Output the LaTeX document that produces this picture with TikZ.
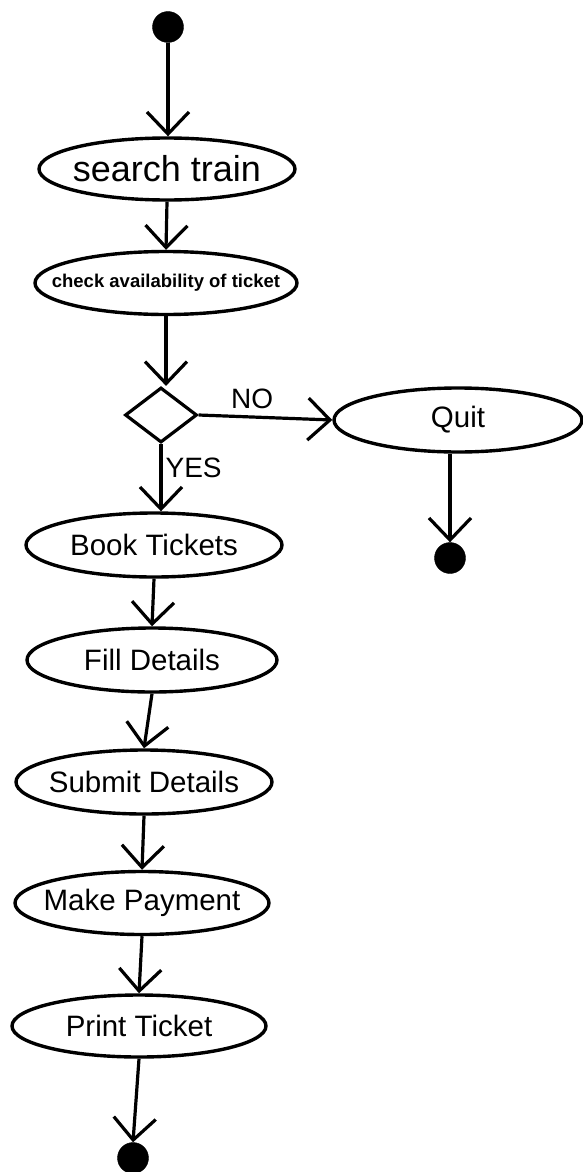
\documentclass[tikz,border=0pt]{standalone}
\usepackage{fontspec}
\setmainfont{Liberation Sans}
\usetikzlibrary{shapes.geometric,arrows.meta}

\tikzset{
  flow/.style={line width=3.2pt, -{Straight Barb[length=22pt,width=42pt,line width=3.2pt]}},
  activity/.style={ellipse, draw, line width=3.4pt, inner sep=0pt,
    font=\fontsize{29.5}{30}\selectfont},
  dot/.style={circle, fill=black, draw=black, inner sep=0pt, minimum size=31pt},
  decision/.style={diamond, draw, line width=3.2pt, inner sep=0pt,
    minimum width=72pt, minimum height=55pt},
  guard/.style={font=\fontsize{28}{28}\selectfont, inner sep=0pt}
}

\begin{document}
\begin{tikzpicture}[x=1pt,y=-1pt]
  \useasboundingbox (0,0) rectangle (583,1172);

  % activity nodes
  \node[dot] (start) at (168,27) {};
  \node[activity, minimum width=256pt, minimum height=62pt, font=\fontsize{36}{36}\selectfont]
    (search) at (167,169) {\makebox[0pt]{search train}};
  \node[activity, minimum width=262pt, minimum height=63pt]
    (check) at (166,283) {\makebox[0pt]{\fontsize{18.5}{19}\selectfont\bfseries check availability of ticket}};
  \node[decision] (dec) at (161,415) {};
  \node[activity, minimum width=248pt, minimum height=64pt]
    (quit) at (458,420) {\makebox[0pt]{Quit}};
  \node[dot] (qend) at (450,558) {};
  \node[activity, minimum width=256pt, minimum height=64pt]
    (book) at (154,545) {\makebox[0pt]{Book Tickets}};
  \node[activity, minimum width=250pt, minimum height=64pt]
    (fill) at (152,660) {\makebox[0pt]{Fill Details}};
  \node[activity, minimum width=256pt, minimum height=64pt]
    (submit) at (144,782) {\makebox[0pt]{Submit Details}};
  \node[activity, minimum width=254pt, minimum height=63pt]
    (pay) at (142,903) {\makebox[0pt]{Make Payment}};
  \node[activity, minimum width=254pt, minimum height=62pt]
    (print) at (139,1026) {\makebox[0pt]{Print Ticket}};
  \node[dot] (fin) at (133,1158) {};

  % control flows
  \draw[flow] (start) -- (start |- search.north);
  \draw[flow] (search.south) -- (check.north);
  \draw[flow] (check.south) -- (check.south |- dec.north);
  \draw[flow] (dec.east) -- node[guard, above=7pt, pos=0.4] (no) {NO} (quit.west);
  \draw[flow] (quit.south -| qend) -- (qend.north);
  \draw[flow] (dec.south) -- node[guard, right=3pt, pos=0.35] (yes) {YES} (dec.south |- book.north);
  \draw[flow] (book.south) -- (fill.north);
  \draw[flow] (fill.south) -- (submit.north);
  \draw[flow] (submit.south) -- (pay.north);
  \draw[flow] (pay.south) -- (print.north);
  \draw[flow] (print.south) -- (fin.north);
\end{tikzpicture}
\end{document}
